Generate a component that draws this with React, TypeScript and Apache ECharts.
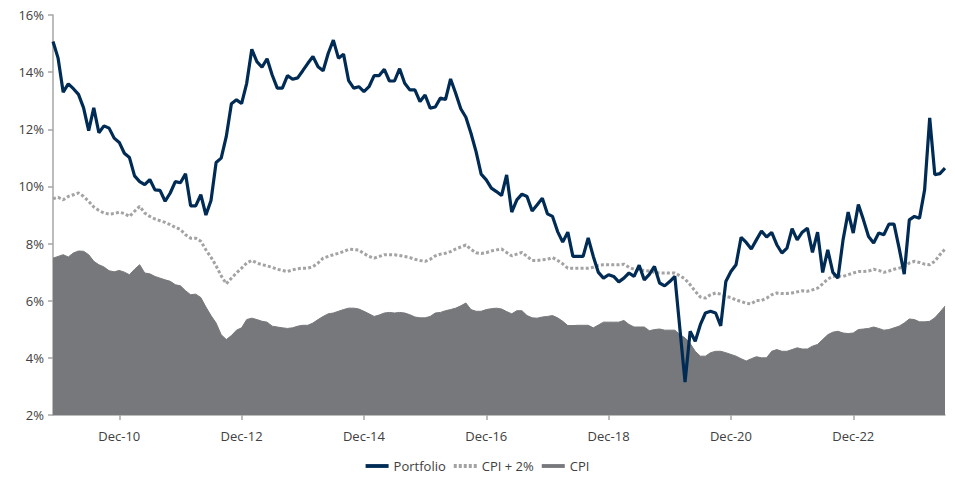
import React, { useEffect, useRef } from "react";
import * as echarts from "echarts";

const startYear = 2009;
const startMonth = 10; // 0-based: November
const monthNames = ["Jan", "Feb", "Mar", "Apr", "May", "Jun", "Jul", "Aug", "Sep", "Oct", "Nov", "Dec"];

const portfolio = [
  15.07, 14.49, 13.3, 13.59, 13.42, 13.22, 12.75, 11.95, 12.75, 11.88,
  12.12, 12.04, 11.69, 11.54, 11.16, 11.01, 10.37, 10.17, 10.06, 10.24,
  9.88, 9.86, 9.48, 9.77, 10.17, 10.13, 10.44, 9.32, 9.32, 9.71,
  9.0, 9.51, 10.84, 10.99, 11.75, 12.89, 13.03, 12.9, 13.61, 14.8,
  14.37, 14.17, 14.47, 13.9, 13.44, 13.44, 13.88, 13.75, 13.8, 14.05,
  14.31, 14.55, 14.19, 14.05, 14.66, 15.12, 14.49, 14.63, 13.7, 13.44,
  13.49, 13.32, 13.49, 13.88, 13.88, 14.1, 13.69, 13.69, 14.12, 13.61,
  13.38, 13.38, 12.97, 13.2, 12.74, 12.78, 13.09, 13.04, 13.76, 13.26,
  12.72, 12.42, 11.86, 11.22, 10.43, 10.23, 9.94, 9.82, 9.68, 10.4,
  9.1, 9.53, 9.73, 9.65, 9.14, 9.36, 9.59, 9.04, 8.95, 8.42,
  8.05, 8.4, 7.55, 7.55, 7.55, 8.2, 7.55, 6.99, 6.79, 6.91,
  6.85, 6.66, 6.79, 6.97, 6.85, 7.24, 6.73, 6.92, 7.2, 6.62,
  6.52, 6.67, 6.85, 5.0, 3.15, 4.93, 4.58, 5.16, 5.57, 5.63,
  5.57, 5.12, 6.67, 7.02, 7.26, 8.22, 8.04, 7.81, 8.13, 8.44,
  8.23, 8.39, 7.96, 7.67, 7.84, 8.52, 8.13, 8.4, 8.54, 7.69,
  8.4, 6.99, 7.78, 6.99, 6.79, 8.13, 9.1, 8.37, 9.37, 8.83,
  8.25, 8.02, 8.37, 8.31, 8.68, 8.68, 7.84, 6.93, 8.83, 8.95,
  8.89, 9.88, 12.4, 10.41, 10.45, 10.64,
];

const cpiPlus2 = [
  9.57, 9.62, 9.53, 9.65, 9.71, 9.77, 9.65, 9.48, 9.28, 9.16,
  9.07, 9.03, 9.05, 9.1, 9.05, 8.95, 9.13, 9.3, 9.07, 8.95,
  8.86, 8.8, 8.74, 8.66, 8.57, 8.49, 8.31, 8.19, 8.19, 8.08,
  7.78, 7.52, 7.22, 6.87, 6.59, 6.79, 6.97, 7.14, 7.32, 7.41,
  7.32, 7.26, 7.22, 7.17, 7.1, 7.06, 7.02, 7.08, 7.12, 7.14,
  7.14, 7.19, 7.32, 7.49, 7.55, 7.61, 7.66, 7.72, 7.8, 7.79,
  7.77, 7.65, 7.55, 7.49, 7.55, 7.61, 7.61, 7.61, 7.58, 7.55,
  7.51, 7.45, 7.41, 7.38, 7.45, 7.57, 7.63, 7.66, 7.72, 7.81,
  7.88, 7.95, 7.8, 7.68, 7.65, 7.68, 7.74, 7.78, 7.81, 7.69,
  7.57, 7.63, 7.69, 7.55, 7.41, 7.41, 7.43, 7.45, 7.51, 7.41,
  7.29, 7.14, 7.14, 7.14, 7.14, 7.14, 7.17, 7.24, 7.26, 7.26,
  7.26, 7.26, 7.28, 7.17, 7.1, 7.08, 7.06, 7.04, 6.99, 6.97,
  6.97, 6.97, 6.97, 6.87, 6.76, 6.56, 6.33, 6.13, 6.09, 6.21,
  6.27, 6.23, 6.15, 6.11, 6.03, 5.97, 5.91, 5.89, 6.01, 6.01,
  6.09, 6.21, 6.27, 6.25, 6.25, 6.27, 6.31, 6.35, 6.33, 6.38,
  6.44, 6.59, 6.76, 6.85, 6.87, 6.85, 6.91, 6.97, 7.02, 7.02,
  7.04, 7.1, 7.06, 6.99, 7.04, 7.1, 7.14, 7.19, 7.32, 7.38,
  7.34, 7.28, 7.26, 7.38, 7.61, 7.81,
];

const cpi = [
  7.49, 7.55, 7.61, 7.53, 7.67, 7.74, 7.73, 7.61, 7.38, 7.26,
  7.18, 7.05, 7.01, 7.06, 7.0, 6.91, 7.1, 7.26, 6.97, 6.94,
  6.85, 6.79, 6.73, 6.68, 6.56, 6.52, 6.35, 6.21, 6.23, 6.11,
  5.78, 5.48, 5.22, 4.81, 4.64, 4.78, 4.97, 5.05, 5.34, 5.39,
  5.34, 5.28, 5.25, 5.11, 5.08, 5.05, 5.03, 5.05, 5.11, 5.14,
  5.14, 5.22, 5.34, 5.45, 5.54, 5.57, 5.63, 5.69, 5.74, 5.74,
  5.71, 5.63, 5.54, 5.45, 5.5, 5.57, 5.59, 5.57, 5.59, 5.57,
  5.51, 5.43, 5.4, 5.4, 5.45, 5.57, 5.59, 5.65, 5.69, 5.74,
  5.82, 5.92, 5.69, 5.63, 5.63, 5.69, 5.72, 5.74, 5.71, 5.62,
  5.54, 5.65, 5.65, 5.48, 5.4, 5.39, 5.43, 5.45, 5.48, 5.4,
  5.28, 5.13, 5.13, 5.14, 5.14, 5.14, 5.05, 5.15, 5.25, 5.25,
  5.25, 5.25, 5.31, 5.17, 5.08, 5.08, 5.08, 4.95, 4.99, 5.01,
  4.97, 4.97, 4.97, 4.81, 4.7, 4.5, 4.23, 4.06, 4.06, 4.18,
  4.23, 4.23, 4.18, 4.12, 4.06, 3.97, 3.89, 3.97, 4.04, 4.0,
  4.0, 4.23, 4.29, 4.23, 4.23, 4.29, 4.35, 4.31, 4.31, 4.41,
  4.47, 4.64, 4.81, 4.9, 4.93, 4.87, 4.85, 4.87, 4.99, 5.01,
  5.03, 5.08, 5.03, 4.97, 4.99, 5.05, 5.11, 5.22, 5.36, 5.34,
  5.26, 5.26, 5.28, 5.4, 5.6, 5.81,
];

const yTicks = { min: 2, max: 16, interval: 2 };

function buildCategories(n: number): string[] {
  const out: string[] = [];
  for (let i = 0; i < n; i++) {
    const m = (startMonth + i) % 12;
    const y = startYear + Math.floor((startMonth + i) / 12);
    out.push(monthNames[m] + "-" + String(y % 100).padStart(2, "0"));
  }
  return out;
}

const categories = buildCategories(portfolio.length);

const NAVY = "#002b55";
const DOT = "#a3a3a3";
const AREA = "#77787b";
const TEXT = "#404040";
const AXIS = "#a6a6a6";
const FONT = "'Open Sans', sans-serif";

function showTick(_idx: number, val: string) {
  if (!val.startsWith("Dec")) return false;
  const yy = parseInt(val.slice(4), 10);
  return yy % 2 === 0;
}

export default function App() {
  const ref = useRef<HTMLDivElement>(null);
  useEffect(() => {
    if (!ref.current) return;
    const chart = echarts.init(ref.current, null, { renderer: "svg" });
    chart.setOption({
      animation: false,
      backgroundColor: "#ffffff",
      textStyle: { fontFamily: FONT },
      grid: { left: 53, right: 10, top: 15, bottom: 64, containLabel: false },
      xAxis: {
        type: "category",
        data: categories,
        boundaryGap: false,
        axisLine: { lineStyle: { color: AXIS, width: 1.5 } },
        axisTick: { show: true, interval: showTick, length: 5, lineStyle: { color: AXIS, width: 1.5 } },
        axisLabel: {
          interval: showTick,
          color: TEXT,
          fontSize: 13,
          fontFamily: FONT,
          margin: 14,
        },
        splitLine: { show: false },
      },
      yAxis: {
        type: "value",
        min: yTicks.min,
        max: yTicks.max,
        interval: yTicks.interval,
        axisLine: { show: true, lineStyle: { color: AXIS, width: 1.5 } },
        axisTick: { show: true, length: 5, lineStyle: { color: AXIS, width: 1.5 } },
        axisLabel: { formatter: "{value}%", color: TEXT, fontSize: 13, fontFamily: FONT, margin: 9 },
        splitLine: { show: false },
      },
      legend: {
        left: "center",
        top: 458,
        padding: 0,
        itemWidth: 23,
        itemHeight: 4,
        itemGap: 8,
        textStyle: { color: TEXT, fontSize: 13, fontFamily: FONT, lineHeight: 16 },
        data: [
          { name: "Portfolio", icon: "path://M0,0 L24,0 L24,4 L0,4 Z", itemStyle: { color: NAVY } },
          {
            name: "CPI + 2%",
            icon: "path://M0,0h3v4h-3z M5,0h3v4h-3z M10,0h3v4h-3z M15,0h3v4h-3z M20,0h3v4h-3z",
            itemStyle: { color: DOT },
          },
          { name: "CPI", icon: "path://M0,0 L24,0 L24,4 L0,4 Z", itemStyle: { color: AREA } },
        ],
      },
      series: [
        {
          name: "CPI",
          type: "line",
          data: cpi,
          showSymbol: false,
          symbol: "none",
          lineStyle: { color: AREA, width: 1 },
          itemStyle: { color: AREA },
          areaStyle: { color: AREA, opacity: 1, origin: "start" },
          z: 1,
        },
        {
          name: "CPI + 2%",
          type: "line",
          data: cpiPlus2,
          showSymbol: false,
          symbol: "none",
          lineStyle: { color: DOT, width: 3, type: [3, 2.2] },
          itemStyle: { color: DOT },
          z: 2,
        },
        {
          name: "Portfolio",
          type: "line",
          data: portfolio,
          showSymbol: false,
          symbol: "none",
          lineStyle: { color: NAVY, width: 3.2 },
          itemStyle: { color: NAVY },
          z: 3,
        },
      ],
    });
    return () => chart.dispose();
  }, []);
  return (
    <div
      ref={ref}
      style={{ position: "fixed", left: 0, top: 0, width: 955, height: 479, background: "#fff" }}
    />
  );
}
